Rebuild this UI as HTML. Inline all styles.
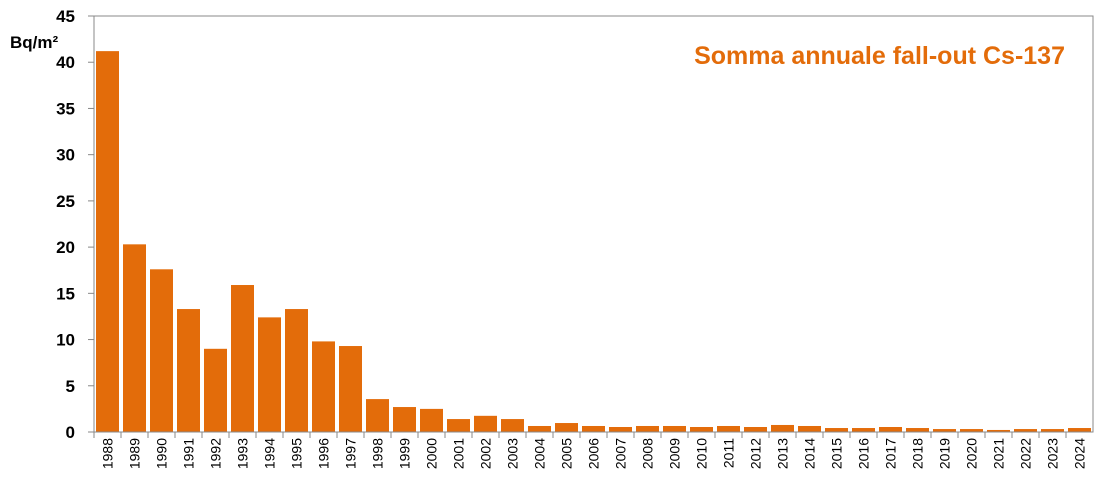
<!DOCTYPE html>
<html><head><meta charset="utf-8"><style>
body{margin:0;background:#fff;}
svg text{font-family:"Liberation Sans",sans-serif;}
</style></head><body>
<svg id="chart" width="1112" height="497" xmlns="http://www.w3.org/2000/svg">
<rect x="94" y="16" width="999" height="416" fill="none" stroke="#888" stroke-width="1"/>
<g id="yaxis"></g>
<g id="bars"></g>
<g id="xaxis"></g>
<text x="10" y="48" font-size="17" font-weight="bold" fill="#000">Bq/m²</text>
<text x="1065" y="64" font-size="25" font-weight="bold" fill="#e36c0a" text-anchor="end">Somma annuale fall-out Cs-137</text>
</svg>
<script>
const categories=["1988","1989","1990","1991","1992","1993","1994","1995","1996","1997","1998","1999","2000","2001","2002","2003","2004","2005","2006","2007","2008","2009","2010","2011","2012","2013","2014","2015","2016","2017","2018","2019","2020","2021","2022","2023","2024"];
const values=[41.2,20.3,17.6,13.3,9.0,15.9,12.4,13.3,9.8,9.3,3.56,2.7,2.5,1.4,1.75,1.4,0.65,0.97,0.65,0.54,0.65,0.65,0.54,0.65,0.54,0.76,0.65,0.43,0.43,0.54,0.43,0.32,0.32,0.22,0.32,0.32,0.43];
const yTicks=[0,5,10,15,20,25,30,35,40,45];
const NS="http://www.w3.org/2000/svg";
const x0=94,x1=1093,y0=432,y1=16,yMax=45;
const slot=(x1-x0)/categories.length;
function yS(v){return y0-(v/yMax)*(y0-y1);}
function xS(i){return x0+i*slot;}
function mk(t,a){const e=document.createElementNS(NS,t);for(const k in a)e.setAttribute(k,a[k]);return e;}
const ya=document.getElementById('yaxis'),bg=document.getElementById('bars'),xa=document.getElementById('xaxis');
yTicks.forEach(v=>{
 const l=mk('line',{x1:x0-6,x2:x0,y1:yS(v),y2:yS(v),stroke:'#888'});
 
 
 ya.appendChild(l);
 const t=mk('text',{x:x0-19,y:yS(v)+6,'font-size':17,'font-weight':'bold','text-anchor':'end'});
 t.textContent=v;
 
 
 ya.appendChild(t);
});
categories.forEach((c,i)=>{
 const r=mk('rect',{x:xS(i)+2,y:yS(values[i]),width:slot-4,height:y0-yS(values[i]),fill:'#e36c0a'});
 
 
 bg.appendChild(r);
 const tk=mk('line',{x1:xS(i),x2:xS(i),y1:y0,y2:y0+6,stroke:'#888'});
 
 
 xa.appendChild(tk);
 const cx=xS(i)+slot/2+5;
 const t=mk('text',{x:cx,y:y0+6,'font-size':14,'text-anchor':'end',transform:`rotate(-90 ${cx} ${y0+6})`});
 t.textContent=c;
 
 
 xa.appendChild(t);
});
const ax=mk('line',{x1:x0,x2:x1,y1:y0,y2:y0,stroke:'#888'});


xa.appendChild(ax);
</script>
</body></html>
